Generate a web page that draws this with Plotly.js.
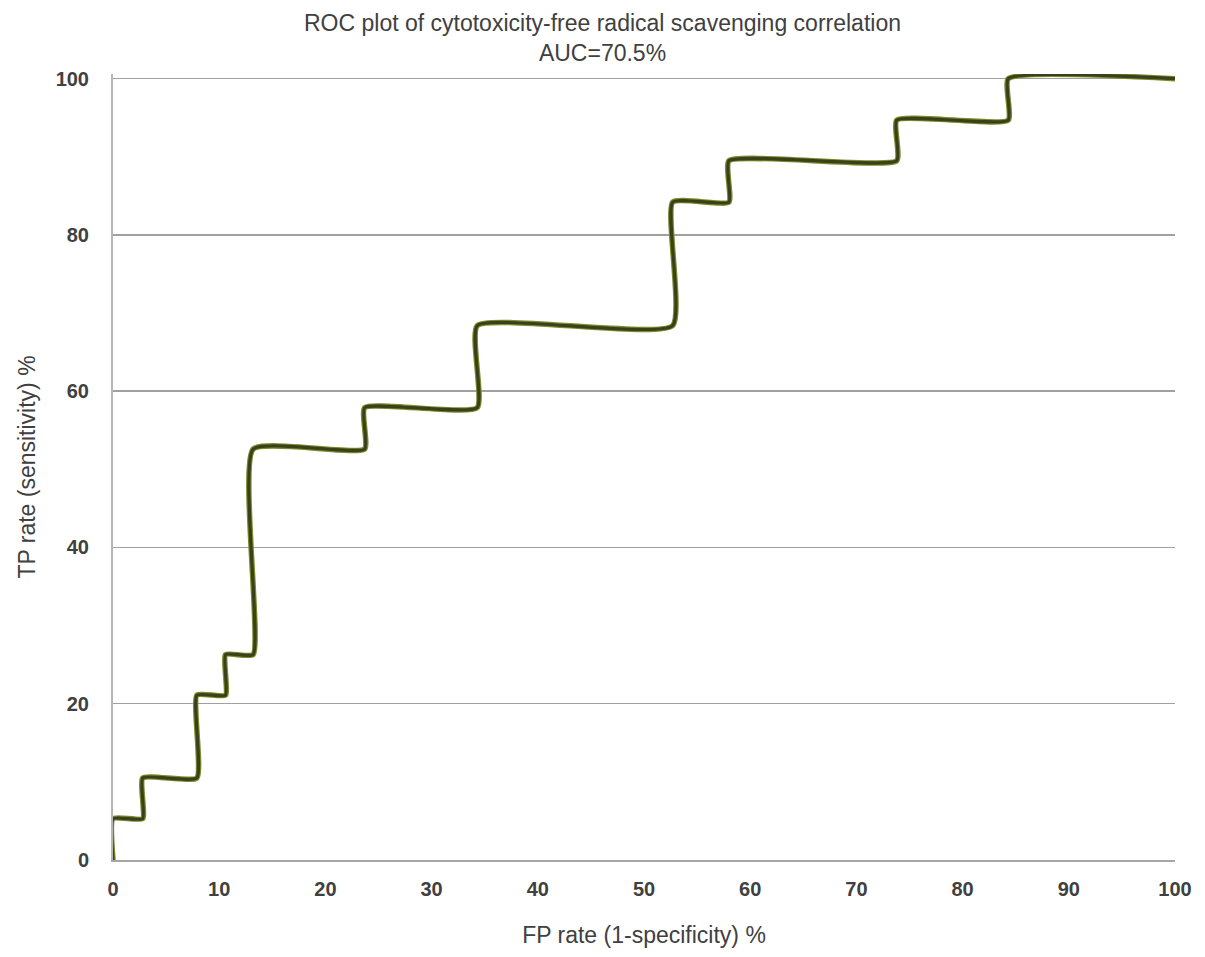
<!DOCTYPE html>
<html>
<head>
<meta charset="utf-8">
<script src="https://cdn.plot.ly/plotly-3.0.1.min.js"></script>
<style>html,body{margin:0;padding:0;background:#fff;}#chart{width:1205px;height:957px;}</style>
</head>
<body>
<div id="chart"></div>
<script>
// ROC points (step curve, drawn smoothed)
const fpRate = [0, 0, 2.8, 2.8, 7.9, 7.9, 10.6, 10.6, 13.2, 13.2, 23.7, 23.7, 34.3, 34.3, 52.7, 52.7, 58.0, 58.0, 73.8, 73.8, 84.3, 84.3, 100];
const tpRate = [0, 5.3, 5.3, 10.5, 10.5, 21.1, 21.1, 26.3, 26.3, 52.6, 52.6, 57.9, 57.9, 68.4, 68.4, 84.2, 84.2, 89.5, 89.5, 94.7, 94.7, 100, 100];
const xTicks = [0, 10, 20, 30, 40, 50, 60, 70, 80, 90, 100];
const yTicks = [0, 20, 40, 60, 80, 100];

const traces = [
  {x: fpRate, y: tpRate, type: 'scatter', mode: 'lines',
   line: {shape: 'spline', smoothing: 0.45, color: '#7d8a2e', width: 5.5}, hoverinfo: 'skip', showlegend: false},
  {x: fpRate, y: tpRate, type: 'scatter', mode: 'lines',
   line: {shape: 'spline', smoothing: 0.45, color: '#3a4119', width: 3.2}, showlegend: false}
];

const FONT = 'Liberation Sans, Arial, sans-serif';
const tickFont = {family: FONT, size: 20, color: '#404040', weight: 'bold'};
const titleFont = {family: FONT, size: 23, color: '#404040'};
const layout = {
  width: 1205, height: 957,
  paper_bgcolor: '#ffffff', plot_bgcolor: '#ffffff',
  margin: {l: 113, r: 30, t: 74, b: 97},
  title: {
    text: 'ROC plot of cytotoxicity-free radical scavenging correlation<br>AUC=70.5%',
    font: titleFont,
    x: 0.5, xanchor: 'center', y: 0.968, yanchor: 'middle', yref: 'container'
  },
  xaxis: {
    range: [0, 100], tickvals: xTicks, ticktext: xTicks.map(String),
    showgrid: false, zeroline: false, showline: true, linecolor: '#a6a6a6', linewidth: 2,
    ticks: '', tickfont: tickFont, ticklabelstandoff: 10,
    title: {text: 'FP rate (1-specificity) %', font: titleFont, standoff: 28}
  },
  yaxis: {
    range: [0, 100.6], tickvals: yTicks, ticktext: yTicks.map(String),
    showgrid: true, gridcolor: '#a0a0a0', gridwidth: 1.5, zeroline: false,
    showline: true, linecolor: '#b5b5b5', linewidth: 2,
    ticks: '', tickfont: tickFont, ticklabelstandoff: 18,
    title: {text: 'TP rate (sensitivity) %', font: titleFont, standoff: 14}
  },
  showlegend: false
};

Plotly.newPlot('chart', traces, layout, {displayModeBar: false, staticPlot: true});
</script>
</body>
</html>
